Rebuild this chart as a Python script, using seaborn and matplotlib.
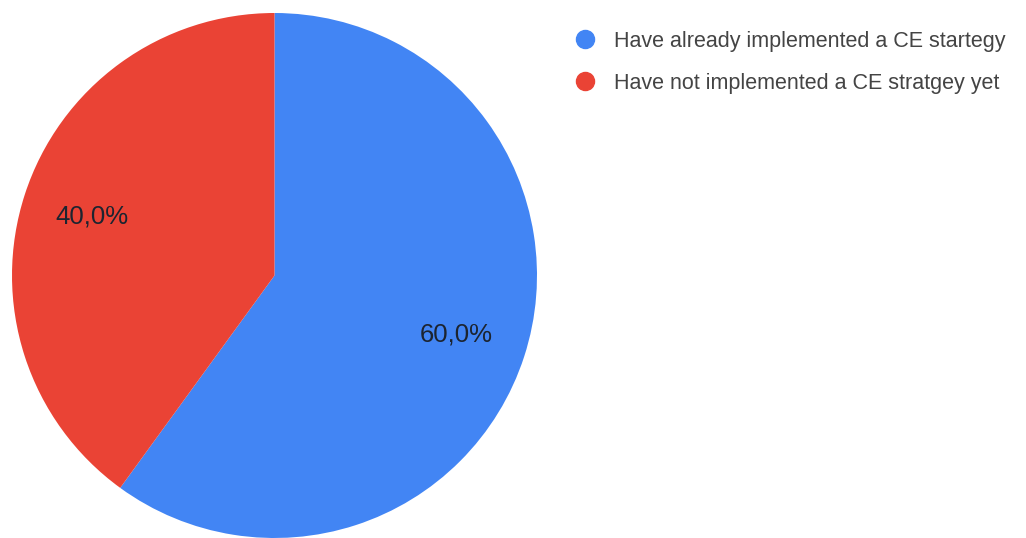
import matplotlib
matplotlib.use("Agg")
import matplotlib.pyplot as plt
from matplotlib.lines import Line2D
import seaborn as sns

# Survey answers: share of companies with a circular economy strategy
categories = ["Have already implemented a CE startegy",
              "Have not implemented a CE stratgey yet"]
shares = [60.0, 40.0]
colors = ["#4285F4", "#EA4335"]

sns.set_theme(style="white")
plt.rcParams["font.family"] = ["Liberation Sans", "DejaVu Sans"]

fig = plt.figure(figsize=(10.26, 5.38), dpi=100)
ax = fig.add_axes([12 / 1026, 0, 525 / 1026, 525 / 538])

wedges, texts, autotexts = ax.pie(
    shares,
    colors=colors,
    startangle=90,
    counterclock=False,
    radius=1.0,
    autopct=lambda p: f"{p:.1f}%".replace(".", ","),
    pctdistance=0.73,
    wedgeprops=dict(linewidth=0),
    textprops=dict(color="#1c2430", fontsize=18.5),
)
ax.set_xlim(-1, 1)
ax.set_ylim(-1, 1)
ax.set_aspect("equal")
ax.axis("off")

handles = [Line2D([0], [0], marker="o", linestyle="", markersize=13,
                  markerfacecolor=c, markeredgecolor=c) for c in colors]
fig.legend(handles, categories, loc="upper left",
           bbox_to_anchor=(555 / 1026, 1 - 22 / 538),
           frameon=False, fontsize=15.5, labelcolor="#444444",
           handletextpad=0.33, labelspacing=0.98, borderaxespad=0)

fig.savefig("out.png", dpi=100, facecolor="white")
